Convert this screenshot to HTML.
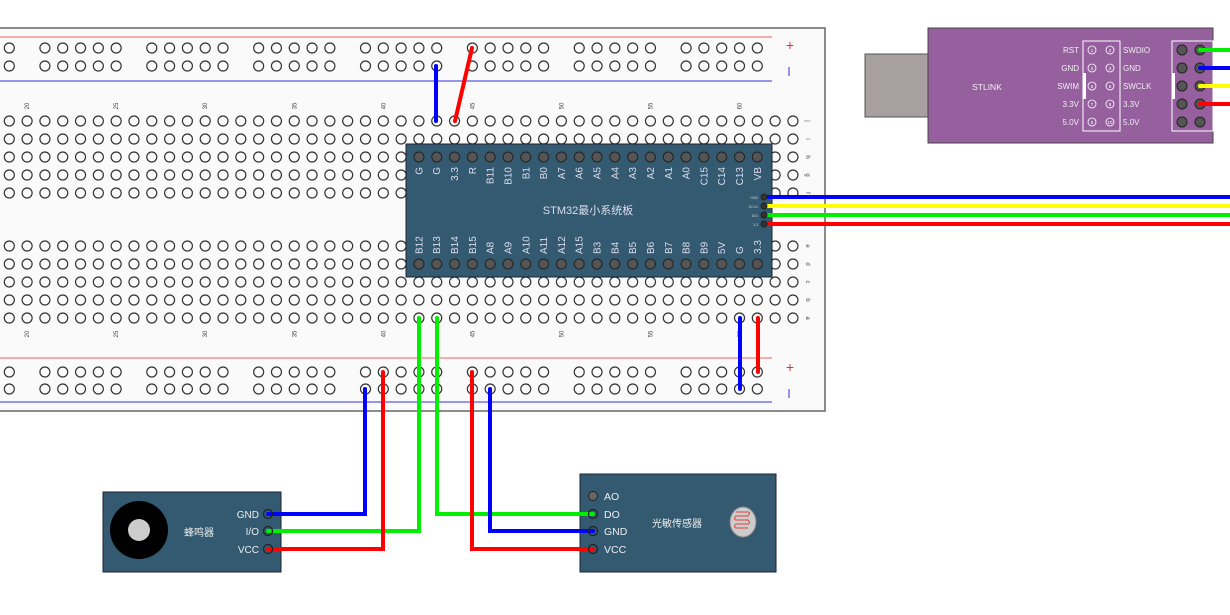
<!DOCTYPE html>
<html><head><meta charset="utf-8">
<style>
html,body{margin:0;padding:0;background:#fff;width:1230px;height:615px;overflow:hidden}
svg{display:block}
text{font-family:"Liberation Sans","Noto Sans CJK SC",sans-serif}
</style></head>
<body>
<svg id="s" width="1230" height="615" xmlns="http://www.w3.org/2000/svg">
<rect x="-5" y="28" width="830" height="383" fill="#fafafa" stroke="#666" stroke-width="1.5"/>
<line x1="0" y1="37" x2="772" y2="37" stroke="#f06060" stroke-width="1"/>
<line x1="0" y1="81" x2="772" y2="81" stroke="#3030e0" stroke-width="1"/>
<line x1="0" y1="358" x2="772" y2="358" stroke="#f06060" stroke-width="1"/>
<line x1="0" y1="402" x2="772" y2="402" stroke="#3030e0" stroke-width="1"/>
<text x="790" y="50" fill="#e03030" font-size="14" text-anchor="middle">+</text>
<line x1="789" y1="67" x2="789" y2="76" stroke="#3030e0" stroke-width="1"/>
<text x="790" y="372" fill="#e03030" font-size="14" text-anchor="middle">+</text>
<line x1="789" y1="389" x2="789" y2="398" stroke="#3030e0" stroke-width="1"/>
<g id="holes" fill="none" stroke="#333" stroke-width="1.2"></g>
<g id="lbl" font-size="6" fill="#444"></g>
<!-- STM32 -->
<rect x="406" y="144" width="366" height="133" fill="#335a70" stroke="#223" stroke-width="1"/>
<g id="stm"></g>
<text x="588" y="214" fill="#dde" font-size="11" text-anchor="middle">STM32最小系统板</text>
<g font-size="3.5" fill="#ccc" text-anchor="end">
<text x="758" y="199">GND</text><text x="758" y="208">DCLK</text><text x="758" y="217">DIO</text><text x="758" y="226">3.3</text>
</g>
<!-- STLINK -->
<rect x="865" y="54" width="63" height="63" fill="#a89fa1" stroke="#555" stroke-width="1"/>
<rect x="928" y="28" width="285" height="115" fill="#96609f" stroke="#444" stroke-width="1"/>
<text x="987" y="90" fill="#eee" font-size="8.5" text-anchor="middle">STLINK</text>
<rect x="1083" y="41" width="37" height="90" fill="none" stroke="#fff" stroke-width="1"/>
<rect x="1083" y="73" width="3" height="26" fill="#fff"/>
<rect x="1172" y="41" width="41" height="90" fill="none" stroke="#fff" stroke-width="1"/>
<rect x="1172" y="73" width="3" height="26" fill="#fff"/>
<g id="stl"></g>
<!-- buzzer -->
<rect x="103" y="492" width="178" height="80" fill="#335a70" stroke="#223"/>
<circle cx="139" cy="530" r="29" fill="#000"/>
<circle cx="139" cy="530" r="11" fill="#ccc"/>
<text x="199" y="536" fill="#eee" font-size="10" text-anchor="middle">蜂鸣器</text>
<g fill="#eee" font-size="10" text-anchor="end">
<text x="259" y="518">GND</text><text x="259" y="535">I/O</text><text x="259" y="553">VCC</text>
</g>
<!-- light sensor -->
<rect x="580" y="474" width="196" height="98" fill="#335a70" stroke="#223"/>
<circle cx="593" cy="496" r="4.5" fill="#666" stroke="#222"/>
<g fill="#eee" font-size="10.5">
<text x="604" y="500">AO</text><text x="604" y="518">DO</text><text x="604" y="535">GND</text><text x="604" y="553">VCC</text>
</g>
<text x="677" y="527" fill="#eee" font-size="10" text-anchor="middle">光敏传感器</text>
<ellipse cx="743" cy="522" rx="13" ry="15" fill="#ccc" stroke="#888"/>
<path d="M736 512h12q3 0 0 4h-12q-3 3 0 4h12q3 3 0 4h-12q-3 3 0 4h12" fill="none" stroke="#d44" stroke-width="1"/>
<!-- wires -->
<g fill="none" stroke-width="4" stroke-linecap="round" stroke-linejoin="miter">
<path d="M436 66V121" stroke="#0000ff"/>
<path d="M472 48L455 121" stroke="#ff0000"/>
<path d="M740 318V389" stroke="#0000ff"/>
<path d="M758 318V372" stroke="#ff0000"/>
<path d="M268 514H365V389" stroke="#0000ff"/>
<path d="M268 531H419V318" stroke="#00ee00"/>
<path d="M268 549H383V372" stroke="#ff0000"/>
<path d="M593 514H437V318" stroke="#00ee00"/>
<path d="M593 531H490V389" stroke="#0000ff"/>
<path d="M593 549H472V372" stroke="#ff0000"/>
<path d="M764 197H1232" stroke="#0000ff"/>
<path d="M764 206H1232" stroke="#ffff00"/>
<path d="M764 215H1232" stroke="#00ee00"/>
<path d="M764 224H1232" stroke="#ff0000"/>
<path d="M1200 50H1232" stroke="#00ee00"/>
<path d="M1200 68H1232" stroke="#0000ff"/>
<path d="M1200 86H1232" stroke="#ffff00"/>
<path d="M1200 104H1232" stroke="#ff0000"/>
</g>
<g id="ends" fill="none" stroke="#222" stroke-width="1"></g>
</svg>
<script>
var NS="http://www.w3.org/2000/svg";
function el(p,t,a,txt){var e=document.createElementNS(NS,t);for(var k in a)e.setAttribute(k,a[k]);if(txt!=null)e.textContent=txt;document.getElementById(p).appendChild(e);return e;}
function X(i){return 9.3+17.81*i;}
var rowsTop=[121,139,157,175,193],rowsBot=[246,264,282,300,318];
for(var i=0;i<45;i++){rowsTop.concat(rowsBot).forEach(function(y){el("holes","circle",{cx:X(i),cy:y,r:5});});}
var railIdx=[0];for(var g=0;g<7;g++)for(var k=0;k<5;k++)railIdx.push(2+g*6+k);
railIdx.forEach(function(i){[48,66,372,389].forEach(function(y){el("holes","circle",{cx:X(i),cy:y,r:5});});});
for(var c=20;c<=60;c+=5){var x=X(c-19);
 el("lbl","text",{x:0,y:0,transform:"translate("+(x+2)+",106) rotate(-90)","text-anchor":"middle"},""+c);
 el("lbl","text",{x:0,y:0,transform:"translate("+(x+2)+",334) rotate(-90)","text-anchor":"middle"},""+c);}
"jihgf".split("").forEach(function(l,j){el("lbl","text",{x:0,y:0,transform:"translate(806,"+rowsTop[j]+") rotate(90)","text-anchor":"middle"},l);});
"edcba".split("").forEach(function(l,j){el("lbl","text",{x:0,y:0,transform:"translate(806,"+rowsBot[j]+") rotate(90)","text-anchor":"middle"},l);});
var topL=["G","G","3.3","R","B11","B10","B1","B0","A7","A6","A5","A4","A3","A2","A1","A0","C15","C14","C13","VB"];
var botL=["B12","B13","B14","B15","A8","A9","A10","A11","A12","A15","B3","B4","B5","B6","B7","B8","B9","5V","G","3.3"];
for(var i=0;i<20;i++){var x=X(23+i);
 el("stm","circle",{cx:x,cy:157,r:5,fill:"#555",stroke:"#222","stroke-width":1});
 el("stm","circle",{cx:x,cy:264,r:5,fill:"#555",stroke:"#222","stroke-width":1});
 el("stm","text",{x:0,y:0,transform:"translate("+(x+3.5)+",167) rotate(-90)","text-anchor":"end",fill:"#dde","font-size":10},topL[i]);
 el("stm","text",{x:0,y:0,transform:"translate("+(x+3.5)+",254) rotate(-90)","text-anchor":"start",fill:"#dde","font-size":10},botL[i]);}
[197,206,215,224].forEach(function(y){el("ends","circle",{cx:764,cy:y,r:3,fill:"#333"});});
var L=["RST","GND","SWIM","3.3V","5.0V"],R=["SWDIO","GND","SWCLK","3.3V","5.0V"];
for(var j=0;j<5;j++){var y=50+18*j;
 el("stl","text",{x:1079,y:y+3,"text-anchor":"end",fill:"#eee","font-size":8},L[j]);
 el("stl","text",{x:1123,y:y+3,fill:"#eee","font-size":8},R[j]);
 el("stl","circle",{cx:1092,cy:y,r:4,fill:"none",stroke:"#fff","stroke-width":0.8});
 el("stl","circle",{cx:1110,cy:y,r:4,fill:"none",stroke:"#fff","stroke-width":0.8});
 el("stl","text",{x:1092,y:y+2,"text-anchor":"middle",fill:"#fff","font-size":4.5},""+(2*j+1));
 el("stl","text",{x:1110,y:y+2,"text-anchor":"middle",fill:"#fff","font-size":4.5},""+(2*j+2));
 el("stl","circle",{cx:1182,cy:y,r:5,fill:"#555",stroke:"#222"});
 el("stl","circle",{cx:1200,cy:y,r:5,fill:"#555",stroke:"#222"});}
[[268,514],[268,531],[268,549],[593,514],[593,531],[593,549]].forEach(function(p){el("ends","circle",{cx:p[0],cy:p[1],r:4.5,fill:"none",stroke:"#222","stroke-width":1.2});});
</script>
</body></html>
